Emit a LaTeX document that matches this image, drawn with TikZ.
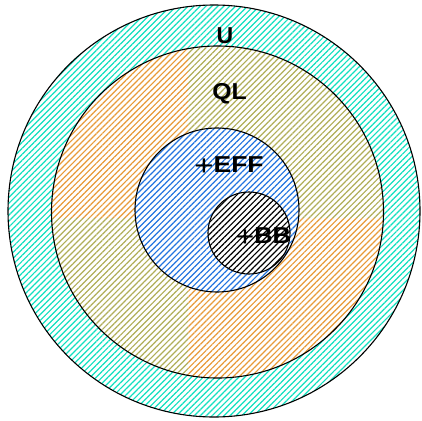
\documentclass[tikz,border=0pt]{standalone}
\usepackage{fontspec}
\setmainfont{Liberation Sans}
\usetikzlibrary{patterns.meta}
\definecolor{cU}{HTML}{10E0C0}
\definecolor{cQL}{HTML}{E89A38}
\definecolor{cQLb}{HTML}{B0AE58}
\definecolor{cEFF}{HTML}{2274E0}
\tikzset{
  hatch/.style={preaction={fill=white}, pattern={Lines[angle=45,distance=4.2pt,line width=1.2pt]}, pattern color=#1},
  rim/.style={draw=black, line width=1.1pt},
  lbl/.style={font=\fontsize{23}{26}\selectfont\bfseries, inner sep=0pt}
}
\newcommand{\pl}{{\mdseries\raisebox{-2.4pt}{\scalebox{1.25}{+}}}}
\begin{document}
\begin{tikzpicture}[x=1pt,y=-1pt]
\useasboundingbox (0,0) rectangle (422,420);
% U
\path[hatch=cU] (214,211) circle[radius=206];
% QL
\path[hatch=cQL] (217.5,212) circle[radius=166];
\begin{scope}
  \clip (188,0) rectangle (422,218) (0,218) rectangle (188,420);
  \path[hatch=cQLb] (217.5,212) circle[radius=166];
\end{scope}
% EFF
\path[hatch=cEFF] (217,210) circle[radius=82];
% BB
\path[hatch=black] (249,233) circle[radius=41];
% outlines
\draw[rim] (214,211) circle[radius=206];
\draw[rim] (217.5,212) circle[radius=166];
\draw[rim] (217,210) circle[radius=82];
\draw[rim] (249,233) circle[radius=41];
% labels
\node[lbl] (U) at (225,36) {U};
\node[lbl] (QL) at (229.5,94) {\scalebox{1.08}[1]{QL}};
\node[lbl] (EFF) at (229,166) {\scalebox{1.15}[1]{\pl EFF}};
\node[lbl] (BB) at (263.5,237) {\scalebox{1.1}[1]{\pl BB}};
\end{tikzpicture}
\end{document}
